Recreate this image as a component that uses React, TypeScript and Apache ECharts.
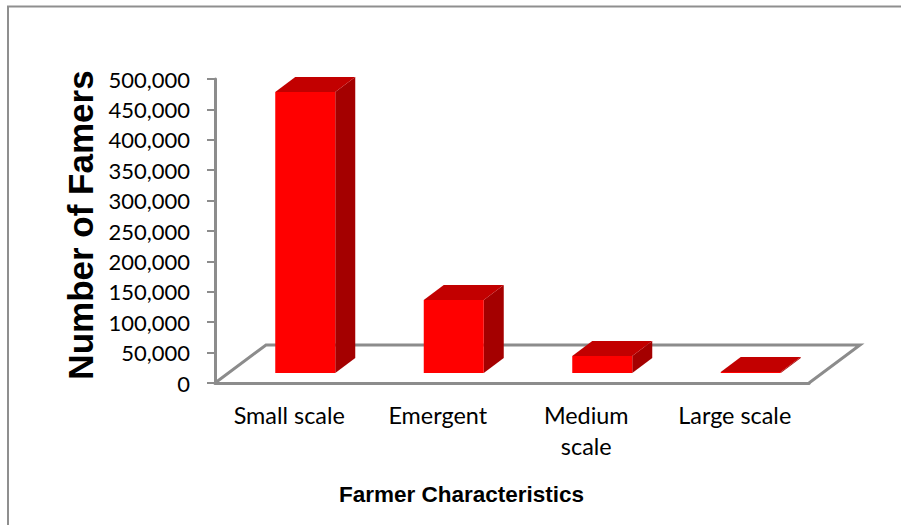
import React, { useEffect, useRef } from "react";
import * as echarts from "echarts";

const categories = ["Small scale", "Emergent", "Medium\nscale", "Large scale"];
const farmers = [462000, 120000, 28000, 1500];
const yTicks = { min: 0, max: 500000, interval: 50000 };

const GRID = { left: 215, right: 92, top: 79, bottom: 142 };
const AXIS_GREY = "#8c8c8c";
const FACE = "#ff0000";
const SIDE = "#a40000";
const TOP = "#c20000";

// Oblique projection of the column boxes and of the floor plane
const BAR_WIDTH = 60;
const BAR_SHIFT_X = 16;
const BAR_LIFT = 10;
const BOX_DX = 20;
const BOX_DY = 15;
const FLOOR_DX = 51;
const FLOOR_DY = 38;

const renderBox = (_params: any, api: any) => {
  const top = api.coord([api.value(0), api.value(1)]);
  const base = api.coord([api.value(0), 0]);
  const x0 = top[0] + BAR_SHIFT_X - BAR_WIDTH / 2;
  const x1 = x0 + BAR_WIDTH;
  const yTop = top[1] - BAR_LIFT;
  const yBase = base[1] - BAR_LIFT;
  const poly = (points: number[][], fill: string) => ({
    type: "polygon",
    shape: { points },
    style: { fill },
    silent: true,
  });
  return {
    type: "group",
    children: [
      poly(
        [[x1, yTop], [x1 + BOX_DX, yTop - BOX_DY], [x1 + BOX_DX, yBase - BOX_DY], [x1, yBase]],
        SIDE,
      ),
      poly(
        [[x0, yTop], [x0 + BOX_DX, yTop - BOX_DY], [x1 + BOX_DX, yTop - BOX_DY], [x1, yTop]],
        TOP,
      ),
      poly([[x0, yTop], [x1, yTop], [x1, yBase], [x0, yBase]], FACE),
    ],
  };
};

export default function App() {
  const ref = useRef<HTMLDivElement>(null);

  useEffect(() => {
    document.body.style.margin = "0";
    const chart = echarts.init(ref.current!, undefined, { renderer: "svg" });
    const frontY = 525 - GRID.bottom;
    const frontL = GRID.left;
    const frontR = 901 - GRID.right;

    chart.setOption({
      animation: false,
      backgroundColor: "#ffffff",
      grid: { ...GRID, containLabel: false },
      xAxis: {
        type: "category",
        data: categories,
        name: "Farmer Characteristics",
        nameLocation: "middle",
        nameGap: 100,
        nameTextStyle: {
          fontFamily: "Liberation Sans",
          fontWeight: "bold",
          fontSize: 22.5,
          color: "#000000",
          padding: [0, 101, 0, 0],
        },
        axisLine: { lineStyle: { color: AXIS_GREY, width: 3 } },
        axisTick: { length: 9, alignWithLabel: false, lineStyle: { color: AXIS_GREY, width: 2 } },
        axisLabel: {
          interval: 0,
          margin: 16,
          fontFamily: "Lato",
          fontSize: 23.4,
          lineHeight: 31,
          color: "#000000",
        },
      },
      yAxis: {
        type: "value",
        ...yTicks,
        name: "Number of Famers",
        nameLocation: "middle",
        nameGap: 115,
        nameTextStyle: {
          fontFamily: "Liberation Sans",
          fontWeight: "bold",
          fontSize: 35,
          color: "#000000",
          padding: [0, 0, 0, 12],
        },
        splitLine: { show: false },
        axisLine: { show: true, lineStyle: { color: AXIS_GREY, width: 3 } },
        axisTick: { show: true, length: 8, lineStyle: { color: AXIS_GREY, width: 2 } },
        axisLabel: {
          margin: 25,
          fontFamily: "Lato",
          fontSize: 22,
          color: "#000000",
          formatter: (v: number) => v.toLocaleString("en-US"),
        },
      },
      graphic: [
        {
          type: "polyline",
          z: 0,
          silent: true,
          shape: {
            points: [
              [frontL, frontY],
              [frontL + FLOOR_DX, frontY - FLOOR_DY],
              [frontR + FLOOR_DX, frontY - FLOOR_DY],
              [frontR, frontY],
            ],
          },
          style: { stroke: AXIS_GREY, lineWidth: 3, fill: "none" },
        },
        {
          type: "polyline",
          z: 0,
          silent: true,
          shape: { points: [[901, 6.5], [8, 6.5], [8, 525]] },
          style: { stroke: "#8f8f8f", lineWidth: 2, fill: "none" },
        },
      ],
      series: [
        {
          type: "custom",
          z: 5,
          clip: false,
          renderItem: renderBox,
          encode: { x: 0, y: 1 },
          data: farmers.map((v, i) => [i, v]),
        },
      ],
    });
    return () => chart.dispose();
  }, []);

  return <div ref={ref} style={{ width: 901, height: 525 }} />;
}
